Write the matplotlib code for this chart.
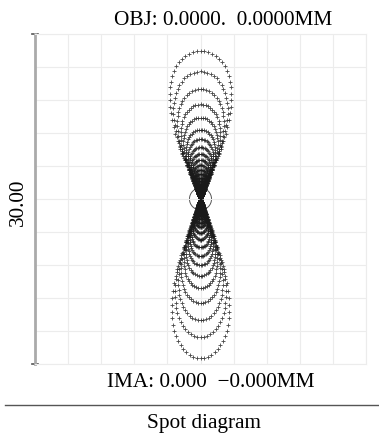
import numpy as np
import matplotlib.pyplot as plt

# ring extents (data units, full field = 30.00)
top_up = [13.5, 11.6, 10.0, 8.6, 7.4, 6.3, 5.45, 4.7, 4.1, 3.55, 3.1, 2.65, 2.3, 1.95, 1.65, 1.4, 1.2, 1.0, 0.85]
width_up = [2.8, 2.45, 2.1, 1.8, 1.55, 1.33, 1.15, 1.0, 0.87, 0.75, 0.66, 0.57, 0.49, 0.42, 0.36, 0.31, 0.26, 0.22, 0.19]
top_down = [14.45, 12.55, 11.0, 9.45, 8.1, 7.0, 6.0, 5.2, 4.4, 3.7, 3.1, 2.55, 2.2, 1.85, 1.55, 1.3, 1.1, 0.9, 0.75]
width_down = [2.6, 2.3, 2.0, 1.75, 1.5, 1.3, 1.12, 0.97, 0.83, 0.7, 0.6, 0.5, 0.43, 0.37, 0.31, 0.27, 0.23, 0.19, 0.16]
airy_radius = 1.0
scale_label = "30.00"
obj_label = "OBJ: 0.0000.  0.0000MM"
ima_label = "IMA: 0.000  \u22120.000MM"
caption = "Spot diagram"

serif = ['Liberation Serif', 'DejaVu Serif']
W, H = 379, 435
fig = plt.figure(figsize=(W / 100, H / 100), dpi=100)
ax = fig.add_axes([35 / W, (H - 365) / H, 331 / W, 330 / H])

# teardrop-shaped ray rings, pointed end toward the chief ray
phi = np.linspace(0, 2 * np.pi, 64, endpoint=False)
shape_x = np.sin(phi) * np.sqrt((1 + np.cos(phi)) / 2)
shape_x = shape_x / shape_x.max()
shape_y = 0.53 + 0.47 * np.cos(phi)
xs, ys = [], []
for tops, widths, sgn in [(top_up, width_up, 1), (top_down, width_down, -1)]:
    for t, w in zip(tops, widths):
        xs.append(w * shape_x)
        ys.append(sgn * t * shape_y)
xs = np.concatenate(xs)
ys = np.concatenate(ys)
ax.plot(xs, ys, '+', color='#1a1a1a', markersize=2.6, markeredgewidth=0.6, alpha=0.8)

circ = plt.Circle((0, 0), airy_radius, fill=False, color='#555555', lw=0.7)
ax.add_patch(circ)

ax.set_xlim(-15, 15)
ax.set_ylim(-15, 15)
grid = np.arange(-15, 15.1, 3)
ax.set_xticks(grid)
ax.set_yticks(grid)
ax.tick_params(length=0, labelbottom=False, labelleft=False)
ax.grid(True, color='#ececec', lw=0.8)
for s in ['top', 'right', 'bottom']:
    ax.spines[s].set_color('#ececec')
    ax.spines[s].set_linewidth(0.8)
ax.spines['left'].set_color('#aaaaaa')
ax.spines['left'].set_linewidth(2)
for yy in [0, 1]:
    ax.plot([-0.01, 0.01], [yy, yy], transform=ax.transAxes, color='#555555', lw=1.2, clip_on=False)

fs = 15.3
fig.text(223 / W, 1 - 25 / H, obj_label, ha='center', va='baseline', fontsize=fs, family=serif)
fig.text(18 / W, 1 - 202 / H, scale_label, ha='center', va='center', rotation=90, fontsize=fs, family=serif)
fig.text(211 / W, 1 - 387 / H, ima_label, ha='center', va='baseline', fontsize=fs, family=serif)
fig.add_artist(plt.Line2D([5 / W, 1], [1 - 406 / H, 1 - 406 / H], color='#555555', lw=1))
fig.text(204 / W, 1 - 428 / H, caption, ha='center', va='baseline', fontsize=fs, family=serif)

fig.savefig('out.png', dpi=100)
